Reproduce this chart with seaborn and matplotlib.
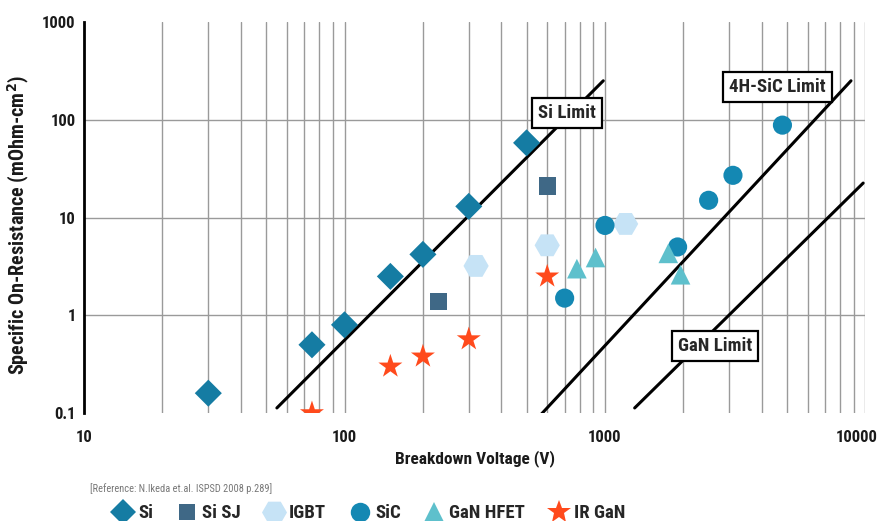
import matplotlib
matplotlib.use("Agg")
import matplotlib.pyplot as plt
import matplotlib.transforms as mtransforms
from matplotlib.lines import Line2D
from matplotlib import font_manager
import pandas as pd
import seaborn as sns

# ---- measured devices: breakdown voltage (V) and specific on-resistance (mOhm-cm2)
si_v = [30, 75, 100, 150, 200, 300, 500]
si_r = [0.16, 0.50, 0.80, 2.5, 4.2, 13, 58]

sisj_v = [230, 600]
sisj_r = [1.4, 21]

igbt_v = [320, 600, 1200]
igbt_r = [3.2, 5.2, 8.6]

sic_v = [700, 1000, 1900, 2500, 3100, 4800]
sic_r = [1.5, 8.3, 5.0, 15, 27, 88]

ganhfet_v = [780, 920, 1750, 1950]
ganhfet_r = [3.0, 3.9, 4.3, 2.6]

irgan_v = [75, 150, 200, 300, 600]
irgan_r = [0.10, 0.30, 0.38, 0.57, 2.5]

# ---- theoretical material limits (end points of each line)
si_limit_v = [55, 985]
si_limit_r = [0.113, 250]
sic_limit_v = [560, 8800]
sic_limit_r = [0.093, 250]
gan_limit_v = [1300, 9800]
gan_limit_r = [0.113, 22.5]

x_ticks = [10, 100, 1000, 10000]
x_tick_labels = ["10", "100", "1000", "10000"]
y_ticks = [0.1, 1, 10, 100, 1000]
y_tick_labels = ["0.1", "1", "10", "100", "1000"]

series = ["Si", "Si SJ", "IGBT", "SiC", "GaN HFET", "IR GaN"]
colors = ["#157ca3", "#3f6886", "#c6e3f6", "#1488b3", "#5ec0cc", "#ff4a1c"]
markers = ["D", "s", "H", "o", "^", "*"]
sizes = [190, 150, 330, 190, 200, 330]

sns.set_theme(style="white")
installed = {f.name for f in font_manager.fontManager.ttflist}
narrow = [n for n in ("Liberation Sans Narrow", "DejaVu Sans Condensed", "Roboto Condensed") if n in installed]
plt.rcParams["font.family"] = narrow + ["Roboto", "DejaVu Sans"]
plt.rcParams["font.stretch"] = "condensed"
plt.rcParams["font.weight"] = "bold"

fig = plt.figure(figsize=(8.79, 5.21), dpi=100)
ax = fig.add_axes([0.0956, 0.207, 0.889, 0.751])

ax.set_xscale("log")
ax.set_yscale("log")
ax.set_xlim(10, 10000)
ax.set_ylim(0.1, 1000)

# grid: minor vertical lines, decade horizontal lines
ax.grid(False)
for v in [d * m for d in (10, 100, 1000) for m in range(2, 11)]:
    ax.axvline(v, color="#9a9a9a", lw=1.0, zorder=0)
for r in (1, 10, 100):
    ax.axhline(r, color="#9a9a9a", lw=1.0, zorder=0)

for s in ("top", "right", "bottom"):
    ax.spines[s].set_visible(False)
ax.spines["left"].set_color("black")
ax.spines["left"].set_linewidth(2.0)

# limit lines
for lv, lr in ((si_limit_v, si_limit_r), (sic_limit_v, sic_limit_r), (gan_limit_v, gan_limit_r)):
    sns.lineplot(x=lv, y=lr, ax=ax, color="black", lw=2.2, zorder=2)

box = dict(boxstyle="square,pad=0.32", fc="white", ec="black", lw=1.6)
ax.text(715, 118, "Si Limit", fontsize=13.5, fontweight="bold", ha="center", va="center", bbox=box, zorder=5)
ax.text(4600, 215, "4H-SiC Limit", fontsize=13.5, fontweight="bold", ha="center", va="center", bbox=box, zorder=5)
ax.text(2650, 0.49, "GaN Limit", fontsize=13.5, fontweight="bold", ha="center", va="center", bbox=box, zorder=5)

all_v = [si_v, sisj_v, igbt_v, sic_v, ganhfet_v, irgan_v]
all_r = [si_r, sisj_r, igbt_r, sic_r, ganhfet_r, irgan_r]
for name, v, r, c, m, sz in zip(series, all_v, all_r, colors, markers, sizes):
    df = pd.DataFrame({"V": v, "R": r})
    sns.scatterplot(data=df, x="V", y="R", ax=ax, color=c, marker=m, s=sz,
                    edgecolor="none", linewidth=0, zorder=4, legend=False)

ax.set_xticks(x_ticks)
ax.set_xticklabels(x_tick_labels)
ax.set_yticks(y_ticks)
ax.set_yticklabels(y_tick_labels)
ax.minorticks_off()
ax.tick_params(axis="both", length=0, labelsize=12, colors="#1a1a1a")
ax.tick_params(axis="x", pad=12)
ax.tick_params(axis="y", pad=6)
for lab in ax.get_xticklabels() + ax.get_yticklabels():
    lab.set_fontweight("bold")
# keep the last x label inside the canvas
last = ax.get_xticklabels()[-1]
last.set_transform(last.get_transform() + mtransforms.ScaledTranslation(-0.09, 0, fig.dpi_scale_trans))

ax.set_xlabel("Breakdown Voltage (V)", fontsize=12.5, fontweight="bold", color="#1a1a1a")
ax.xaxis.set_label_coords(0.5, -0.095)
ax.set_ylabel("Specific On-Resistance (mOhm-cm$^2$)", fontsize=14.5, fontweight="bold", color="#1a1a1a")
ax.yaxis.set_label_coords(-0.068, 0.48)

fig.text(0.102, 0.055, "[Reference: N.Ikeda et.al. ISPSD 2008 p.289]", fontsize=7.5, color="#777777",
         fontweight="normal")

handles = [Line2D([], [], ls="none", marker=m, color=c, markersize=ms, markeredgewidth=0)
           for c, m, ms in zip(colors, markers, [13, 12, 18, 14, 14, 18])]
fig.legend(handles, series, loc="lower left", bbox_to_anchor=(0.11, -0.035), ncol=6, frameon=False,
           prop={"size": 13.5, "weight": "bold"}, handlelength=1.0, handletextpad=0.3, columnspacing=1.3)

fig.savefig("out.png", dpi=100)
